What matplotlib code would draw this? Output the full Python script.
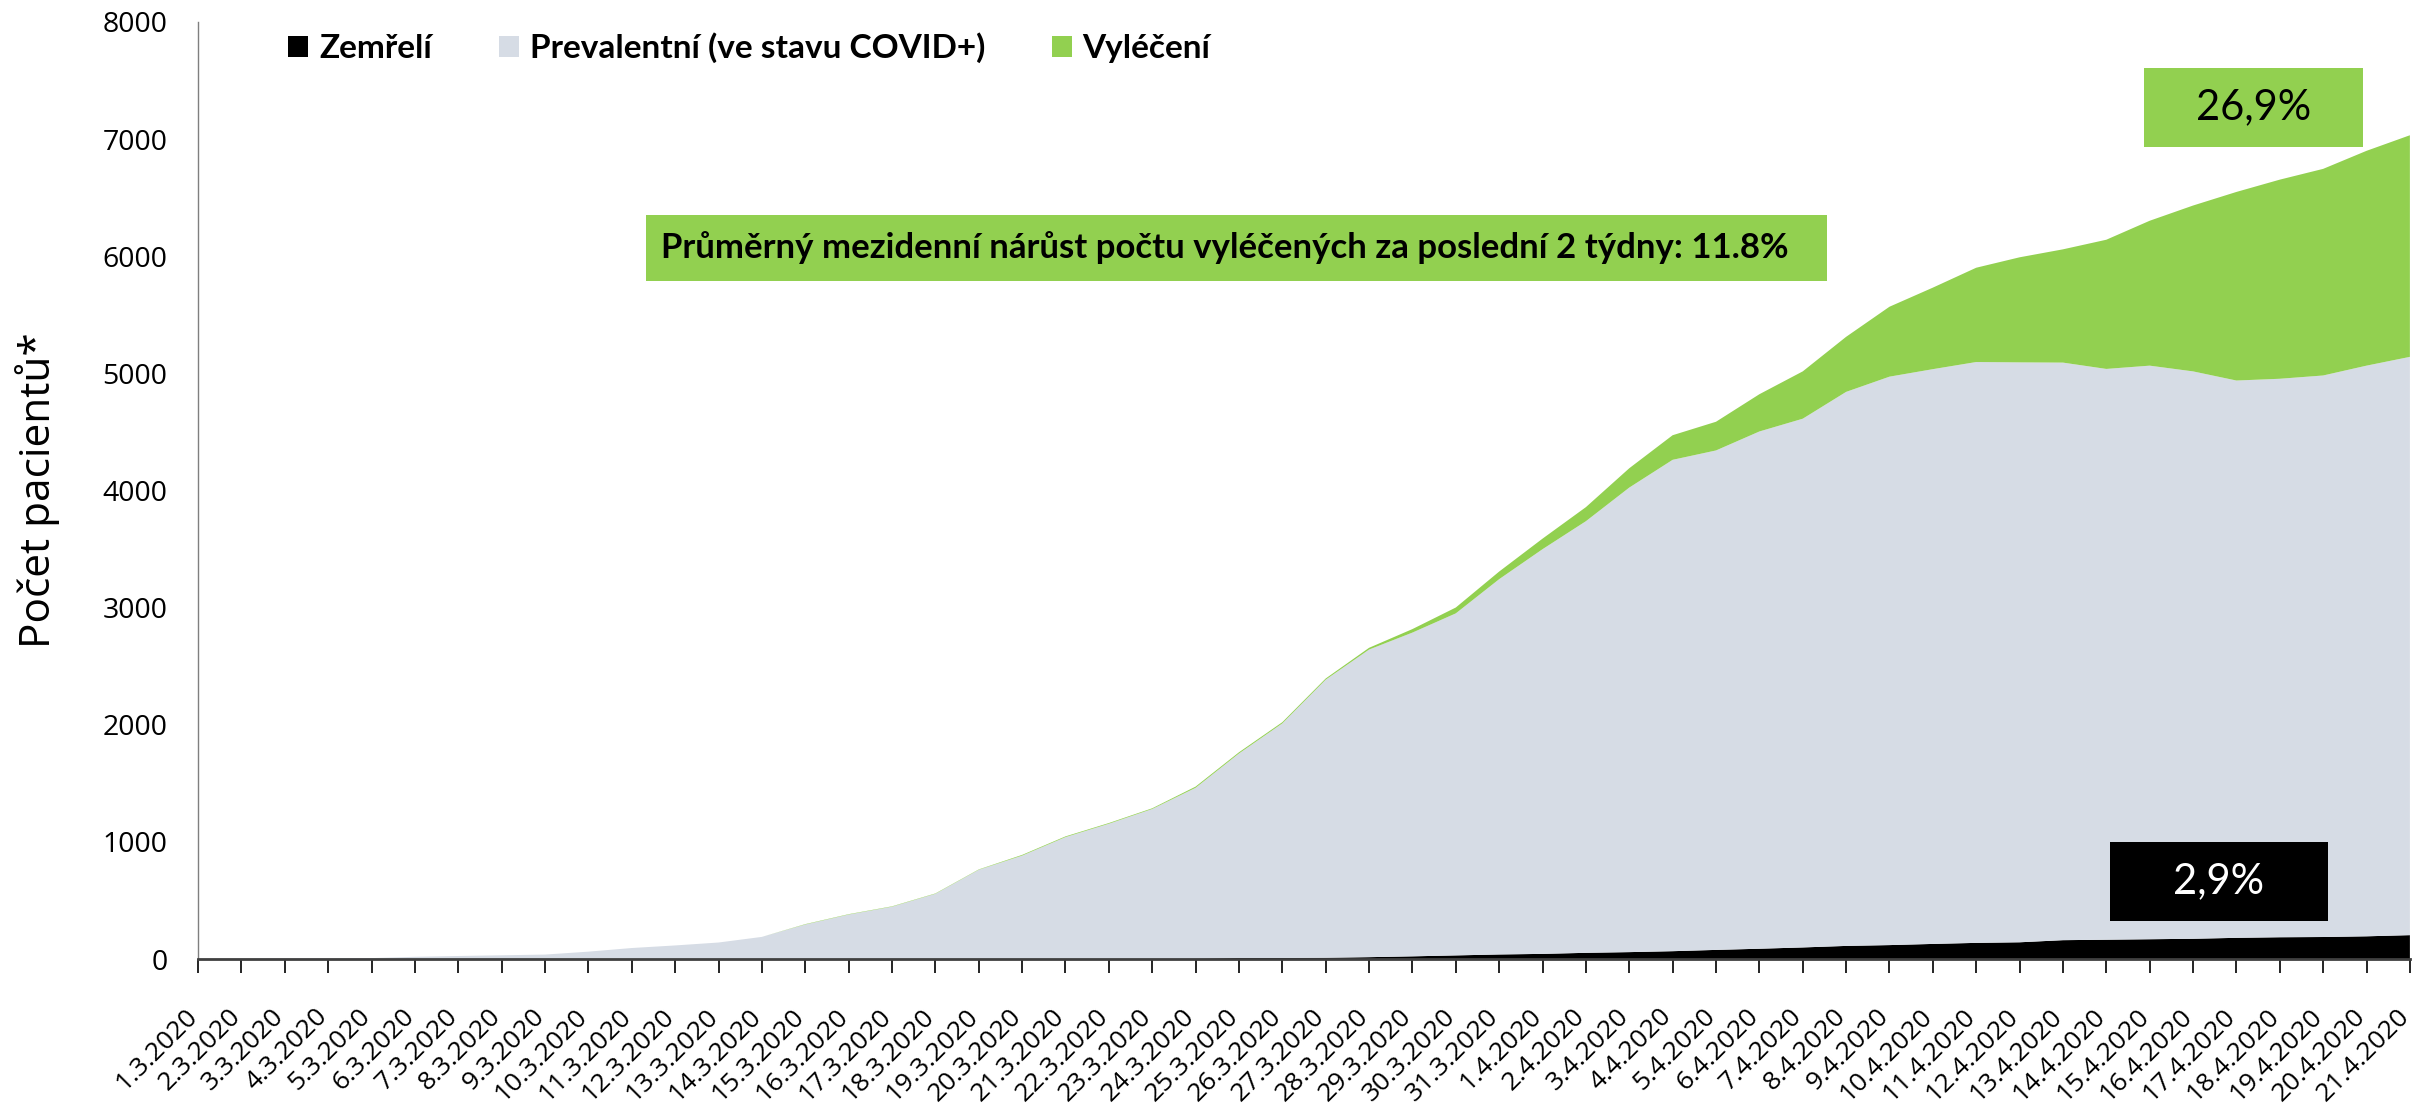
import matplotlib
matplotlib.use("Agg")
import matplotlib.pyplot as plt
from matplotlib.patches import Patch, Rectangle

plt.rcParams['font.family'] = ['Lato', 'DejaVu Sans']

# --- data (1.3.2020 - 21.4.2020) ---
dates = ['1.3.2020', '2.3.2020', '3.3.2020', '4.3.2020', '5.3.2020', '6.3.2020', '7.3.2020',
         '8.3.2020', '9.3.2020', '10.3.2020', '11.3.2020', '12.3.2020', '13.3.2020', '14.3.2020',
         '15.3.2020', '16.3.2020', '17.3.2020', '18.3.2020', '19.3.2020', '20.3.2020', '21.3.2020',
         '22.3.2020', '23.3.2020', '24.3.2020', '25.3.2020', '26.3.2020', '27.3.2020', '28.3.2020',
         '29.3.2020', '30.3.2020', '31.3.2020', '1.4.2020', '2.4.2020', '3.4.2020', '4.4.2020',
         '5.4.2020', '6.4.2020', '7.4.2020', '8.4.2020', '9.4.2020', '10.4.2020', '11.4.2020',
         '12.4.2020', '13.4.2020', '14.4.2020', '15.4.2020', '16.4.2020', '17.4.2020', '18.4.2020',
         '19.4.2020', '20.4.2020', '21.4.2020']

zemreli = [0, 0, 0, 0, 0, 0, 0, 0, 0, 0, 0, 0, 0, 0, 0, 0, 0, 0, 0, 0, 0,
           1, 1, 3, 9, 9, 11, 16, 23, 31, 39, 44, 53, 59, 67, 78, 88, 99, 112, 119,
           129, 138, 143, 161, 165, 169, 173, 181, 186, 188, 194, 204]

prevalentni = [3, 3, 5, 5, 8, 19, 26, 32, 38, 63, 94, 116, 141, 189, 295, 380, 447, 557,
               762, 883, 1041, 1154, 1280, 1459, 1746, 2003, 2374, 2626, 2764, 2920, 3204,
               3455, 3685, 3966, 4195, 4264, 4416, 4514, 4730, 4853, 4907, 4959, 4951, 4931,
               4873, 4897, 4844, 4758, 4768, 4794, 4872, 4937]

vyleceni = [0, 0, 0, 0, 0, 0, 0, 0, 0, 0, 0, 0, 0, 0, 3, 3, 3, 3, 3, 6, 6, 6, 6,
            10, 10, 10, 10, 15, 30, 50, 65, 90, 120, 165, 210, 245, 318, 404, 470, 597,
            696, 805, 897, 967, 1103, 1237, 1416, 1610, 1700, 1764, 1834, 1892]

labels = ['Zemřelí', 'Prevalentní (ve stavu COVID+)', 'Vyléčení']
colors = ['#000000', '#D6DCE5', '#92D050']

fig = plt.figure(figsize=(24.22, 11.05), dpi=100)
ax = fig.add_axes([0.0818, 0.1321, 0.9132, 0.848])

x = list(range(len(dates)))
ax.stackplot(x, zemreli, prevalentni, vyleceni, colors=colors, linewidth=0)

ax.set_xlim(0, len(dates) - 1)
ax.set_ylim(0, 8000)
ax.set_yticks(range(0, 8001, 1000))
ax.tick_params(axis='y', length=0, pad=22)
for t in ax.get_yticklabels():
    t.set_fontfamily(['Open Sans', 'DejaVu Sans'])
    t.set_fontsize(20.5)

ax.set_xticks(x)
ax.set_xticklabels(dates, rotation=45, ha='right', va='baseline', rotation_mode='anchor',
                   fontsize=19, family=['Open Sans', 'DejaVu Sans'])
ax.tick_params(axis='x', length=10, width=1.2, direction='out', pad=32)

for s in ['top', 'right']:
    ax.spines[s].set_visible(False)
ax.spines['left'].set_color('#7f7f7f')
ax.spines['left'].set_linewidth(1)
ax.spines['bottom'].set_color('#404040')
ax.spines['bottom'].set_linewidth(2)

fig.text(0.0155, 0.556, 'Počet pacientů*', rotation=90, ha='center', va='center',
         fontsize=30.5, family=['Open Sans', 'DejaVu Sans'])

# legend
handles = [Patch(facecolor=c) for c in colors]
fig.legend(handles, labels, ncol=3, loc='center left', bbox_to_anchor=(0.119, 0.9566),
           frameon=False, borderpad=0, borderaxespad=0,
           prop={'weight': 'bold', 'size': 24},
           handlelength=0.6, handleheight=0.6, handletextpad=0.33, columnspacing=2.0)

# annotation boxes
fig.patches.append(Rectangle((0.2667, 0.7457), 0.4876, 0.0597, transform=fig.transFigure,
                             facecolor='#92D050', edgecolor='none'))
fig.text(0.5059, 0.7756, 'Průměrný mezidenní nárůst počtu vyléčených za poslední 2 týdny: 11.8%',
         ha='center', va='center', fontsize=25, fontweight='bold')

fig.patches.append(Rectangle((0.8852, 0.8670), 0.0904, 0.0715, transform=fig.transFigure,
                             facecolor='#92D050', edgecolor='none'))
fig.text(0.9304, 0.9027, '26,9%', ha='center', va='center', fontsize=30)

fig.patches.append(Rectangle((0.8712, 0.1665), 0.0900, 0.0715, transform=fig.transFigure,
                             facecolor='#000000', edgecolor='none'))
fig.text(0.9162, 0.2023, '2,9%', ha='center', va='center', fontsize=30, color='white')

fig.savefig('out.png', dpi=100)
